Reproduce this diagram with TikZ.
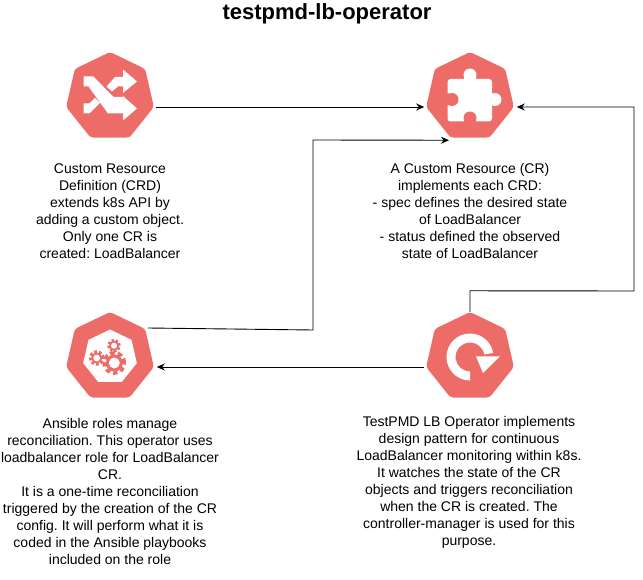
\documentclass[tikz,border=0pt]{standalone}
\usepackage{fontspec}
\setmainfont{Liberation Sans}
\usepackage{tikz}
\usetikzlibrary{shapes.geometric, arrows.meta, positioning, calc}
\definecolor{iconred}{HTML}{EE6C67}

\begin{document}
\begin{tikzpicture}[
	x=1pt, y=-1pt,
	icon/.style={regular polygon, regular polygon sides=7, fill=iconred, minimum size=90pt, inner sep=0pt, rounded corners=3pt},
	hole/.style={regular polygon, regular polygon sides=7, fill=white, minimum size=55pt, inner sep=0pt},
	caption/.style={align=center, inner sep=0pt, font=\fontsize{14}{17}\selectfont\frenchspacing},
	edge/.style={-{Stealth[length=8pt, width=7pt]}, line width=0.9pt},
	teeth/.style={draw=iconred, line width=#1*0.55pt, dash pattern=on #1*0.5pt off #1*0.36pt},
	shuffleglyph/.pic={
		\fill[white] (-26.5,-20.5) -- (-16.5,-20.5) -- (3.5,0) -- (13,0) -- (13,-1) -- (27,11.5) -- (13,23.5) -- (13,16.5) -- (-2,16.5) -- (-21.5,-10.5) -- (-26.5,-10.5) -- cycle;
		\fill[white] (-26.5,16.5) -- (-20.5,16.5) -- (-10,6) -- (-15,1) -- (-20.5,6.5) -- (-26.5,6.5) -- cycle;
		\fill[white] (-3.5,-10.5) -- (5,-20) -- (13,-20) -- (13,-27.5) -- (27,-15.5) -- (13,-4) -- (13,-10.5) -- (8,-10.5) -- (2,-5.5) -- cycle;
	},
	puzzleglyph/.pic={
		\fill[white, rounded corners=3pt] (-22.5,-18) rectangle (22,24.5);
		\fill[white] (0,-22) circle[radius=6.5pt] (-6,-22) rectangle (6,-16);
		\fill[white] (25,2.5) circle[radius=6.5pt] (20,-3.5) rectangle (25,8.5);
		\fill[iconred] (-18,2.5) circle[radius=6.5pt] (-24,-3.5) rectangle (-18,8.5);
		\fill[iconred] (0,21) circle[radius=6.5pt] (-6,21) rectangle (6,26);
	},
	gearsglyph/.pic={
		% big gear
		\draw[teeth=8.5] (4.3,6) circle[radius=9.6pt];
		\fill[iconred] (4.3,6) circle[radius=8.5pt];
		\fill[white] (4.3,6) circle[radius=5.5pt];
		% left gear
		\draw[teeth=5.5] (-13.3,1) circle[radius=6.2pt];
		\fill[iconred] (-13.3,1) circle[radius=5.5pt];
		\fill[white] (-13.3,1) circle[radius=3.4pt];
		% top gear
		\draw[teeth=5] (4,-11.3) circle[radius=5.6pt];
		\fill[iconred] (4,-11.3) circle[radius=5pt];
		\fill[white] (4,-11.3) circle[radius=3pt];
	},
	cycleglyph/.pic={
		\fill[white] (0pt,-23.5pt) arc[start angle=270, end angle=10, radius=23.5pt] -- (14.3pt,2.5pt) arc[start angle=10, end angle=270, radius=14.5pt] -- cycle;
		\fill[white] (6,-0.7) -- (30,-0.7) -- (13,16) -- cycle;
	}
]

% Icons
\path[use as bounding box] (0,0) rectangle (643,580);
\node[icon] (crd) at (110,97) {};
\node[icon] (cr) at (470,97) {};
\node[icon] (ansible) at (110,357) {};
\node[icon] (operator) at (470,357) {};
\node[hole] (gearbase) at (110,357) {};

\pic at (crd) {shuffleglyph};
\pic at (cr) {puzzleglyph};
\pic at (ansible) {gearsglyph};
\pic at (operator) {cycleglyph};

% Title
\node[font=\bfseries\fontsize{22}{26}\selectfont, inner sep=0pt] (title) at (327,14) {testpmd-lb-operator};

% Captions
\node[caption, below=25.5pt of crd] (crdtext) {Custom Resource\\Definition (CRD)\\extends k8s API by\\adding a custom object.\\Only one CR is\\created: LoadBalancer};
\node[caption, below=25.5pt of cr] (crtext) {A Custom Resource (CR)\\implements each CRD:\\- spec defines the desired state\\of LoadBalancer\\- status defined the observed\\state of LoadBalancer};
\node[caption, below=20.5pt of ansible] (ansibletext) {Ansible roles manage\\reconciliation. This operator uses\\loadbalancer role for LoadBalancer\\CR.\\It is a one-time reconciliation\\triggered by the creation of the CR\\config. It will perform what it is\\coded in the Ansible playbooks\\included on the role};
\node[caption, below=18.5pt of operator, xshift=-1pt] (operatortext) {TestPMD LB Operator implements\\design pattern for continuous\\LoadBalancer monitoring within k8s.\\It watches the state of the CR\\objects and triggers reconciliation\\when the CR is created. The\\controller-manager is used for this\\purpose.};

% Connectors
\draw[edge] ([shift={(4pt,-10pt)}]crd.east) -- ([shift={(-4pt,-10pt)}]cr.west);
\draw[edge] ([shift={(-4pt,-10pt)}]operator.west) -- ([shift={(5pt,-10pt)}]ansible.east);
\draw[edge] ([shift={(38pt,29pt)}]ansible.center) -- (313,330) -- (313,140) -- ([shift={(-21pt,-2.5pt)}]cr.south);
\draw[edge] (operator.north) -- ++(0,-21) -- (634,291) -- (634,107) -- ([shift={(5pt,-10pt)}]cr.east);

\end{tikzpicture}
\end{document}
